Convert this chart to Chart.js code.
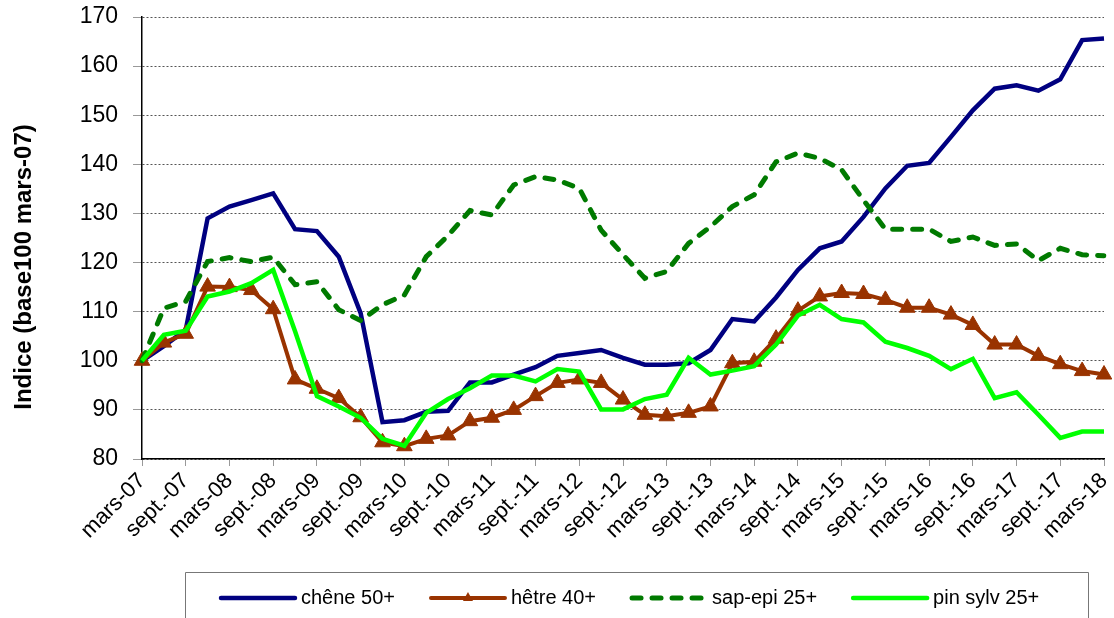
<!DOCTYPE html>
<html lang="fr">
<head>
<meta charset="UTF-8">
<title>Indice des prix du bois sur pied</title>
<script src="https://cdn.jsdelivr.net/npm/chart.js"></script>
<style>
  html, body { margin: 0; padding: 0; background: #fff; }
  #wrap { width: 1114px; height: 618px; position: relative; }
</style>
</head>
<body>
<div id="wrap"><canvas id="indexChart"></canvas></div>
<script>
// quarterly points, only every other one gets a label on the axis
const quarters = [
  'mars-07', 'juin-07', 'sept.-07', 'déc.-07',
  'mars-08', 'juin-08', 'sept.-08', 'déc.-08',
  'mars-09', 'juin-09', 'sept.-09', 'déc.-09',
  'mars-10', 'juin-10', 'sept.-10', 'déc.-10',
  'mars-11', 'juin-11', 'sept.-11', 'déc.-11',
  'mars-12', 'juin-12', 'sept.-12', 'déc.-12',
  'mars-13', 'juin-13', 'sept.-13', 'déc.-13',
  'mars-14', 'juin-14', 'sept.-14', 'déc.-14',
  'mars-15', 'juin-15', 'sept.-15', 'déc.-15',
  'mars-16', 'juin-16', 'sept.-16', 'déc.-16',
  'mars-17', 'juin-17', 'sept.-17', 'déc.-17',
  'mars-18'
];

const chene = [100, 103, 106.3, 129, 131.4, 132.7, 134.1, 126.8, 126.4, 121.2,
  109.7, 87.5, 87.9, 89.6, 89.8, 95.6, 95.6, 97.2, 98.7, 101.0,
  101.6, 102.2, 100.6, 99.2, 99.2, 99.5, 102.2, 108.5, 108.0, 112.9,
  118.5, 122.9, 124.3, 129.3, 135.1, 139.7, 140.3, 145.6, 151.0, 155.4,
  156.1, 155.0, 157.3, 165.3, 165.6];

const hetre = [100, 103.7, 105.5, 115.1, 115.0, 114.4, 110.5, 96.2, 94.3, 92.4,
  88.5, 83.4, 82.6, 84.1, 84.8, 87.7, 88.4, 90.0, 92.8, 95.5,
  96.2, 95.5, 92.1, 89.0, 88.7, 89.4, 90.7, 99.5, 99.8, 104.5,
  110.2, 113.1, 113.8, 113.6, 112.4, 110.8, 110.8, 109.4, 107.3, 103.3,
  103.3, 101.0, 99.3, 97.9, 97.2];

const sapEpi = [100, 110.7, 112.1, 120.2, 121.0, 120.2, 121.1, 115.5, 116.1, 110.4,
  108.2, 111.4, 113.4, 121.2, 125.5, 130.6, 129.7, 135.8, 137.5, 136.8,
  135.1, 126.6, 121.6, 116.8, 118.2, 123.9, 127.3, 131.4, 133.8, 140.5,
  142.3, 141.2, 138.9, 132.7, 126.8, 126.8, 126.8, 124.3, 125.2, 123.5,
  123.8, 120.4, 122.9, 121.6, 121.4];

const pinSylv = [100, 105.3, 106.1, 113.1, 114.1, 115.8, 118.5, 106, 92.8, 90.7,
  88.4, 84.1, 82.7, 89.4, 92.2, 94.4, 97.0, 97.0, 95.8, 98.3,
  97.8, 90.1, 90.1, 92.2, 93.1, 100.6, 97.2, 98.0, 98.9, 103.3,
  109.2, 111.4, 108.5, 107.8, 103.9, 102.6, 101.0, 98.3, 100.4, 92.4,
  93.6, 89.0, 84.3, 85.6, 85.6];

const yTitle = 'Indice (base100 mars-07)';

const FONT = '"Liberation Sans", Arial, sans-serif';
Chart.defaults.font.family = FONT;
Chart.defaults.color = '#000';

// y title (sits a bit lower than the axis middle) + boxed legend, drawn by hand
const extras = {
  id: 'extras',
  afterDraw(chart) {
    const ctx = chart.ctx;
    ctx.save();
    ctx.translate(24, 267);
    ctx.rotate(-Math.PI / 2);
    ctx.font = 'bold 24px ' + FONT;
    ctx.fillStyle = '#000';
    ctx.textAlign = 'center';
    ctx.textBaseline = 'middle';
    ctx.fillText(yTitle, 0, 0);
    ctx.restore();

    ctx.save();
    ctx.strokeStyle = '#777';
    ctx.lineWidth = 1;
    ctx.beginPath();
    ctx.moveTo(185.5, 640);
    ctx.lineTo(185.5, 572.5);
    ctx.lineTo(1088.5, 572.5);
    ctx.lineTo(1088.5, 640);
    ctx.stroke();

    ctx.font = '20px ' + FONT;
    ctx.textBaseline = 'middle';
    ctx.textAlign = 'left';
    let x = 221;
    const y = 598;
    chart.data.datasets.forEach(ds => {
      ctx.strokeStyle = ds.borderColor;
      ctx.lineWidth = ds.borderWidth;
      ctx.lineCap = 'round';
      ctx.setLineDash(ds.borderDash || []);
      ctx.beginPath();
      ctx.moveTo(x, y);
      ctx.lineTo(x + 74, y);
      ctx.stroke();
      ctx.setLineDash([]);
      if (ds.pointStyle === 'triangle') {
        ctx.fillStyle = ds.backgroundColor;
        ctx.beginPath();
        ctx.moveTo(x + 37, y - 6);
        ctx.lineTo(x + 42, y + 3);
        ctx.lineTo(x + 32, y + 3);
        ctx.closePath();
        ctx.fill();
      }
      ctx.fillStyle = '#000';
      ctx.fillText(ds.label, x + 80, y);
      x += 80 + ctx.measureText(ds.label).width + 36;
    });
    ctx.restore();
  }
};

new Chart(document.getElementById('indexChart'), {
  type: 'line',
  data: {
    labels: quarters,
    datasets: [
      {
        label: 'chêne 50+',
        data: chene,
        borderColor: '#000080',
        borderWidth: 4.5,
        pointRadius: 0,
        order: 4
      },
      {
        label: 'hêtre 40+',
        data: hetre,
        borderColor: '#993300',
        backgroundColor: '#993300',
        borderWidth: 4,
        pointStyle: 'triangle',
        pointRadius: 9,
        pointBorderColor: '#993300',
        pointBackgroundColor: '#993300',
        pointBorderWidth: 1,
        order: 3
      },
      {
        label: 'sap-epi 25+',
        data: sapEpi,
        borderColor: '#007a00',
        borderWidth: 5,
        borderDash: [9, 11],
        borderCapStyle: 'round',
        pointRadius: 0,
        order: 2
      },
      {
        label: 'pin sylv 25+',
        data: pinSylv,
        borderColor: '#00ff00',
        borderWidth: 4.5,
        pointRadius: 0,
        order: 1
      }
    ]
  },
  options: {
    responsive: true,
    maintainAspectRatio: false,
    animation: false,
    layout: { padding: { left: 0, right: 7, top: 17, bottom: 59 } },
    plugins: {
      legend: { display: false },
      tooltip: { enabled: false }
    },
    scales: {
      x: {
        ticks: {
          autoSkip: false,
          minRotation: 45,
          maxRotation: 45,
          padding: 2,
          font: { size: 22 },
          callback: (v, i) => (i % 2 ? '' : quarters[i])
        },
        grid: {
          drawOnChartArea: false,
          tickLength: 7,
          tickColor: c => (c.index % 2 ? 'rgba(0,0,0,0)' : '#999')
        },
        border: { color: '#000', width: 1.5 },
        afterFit(scale) {
          scale.height = 100;
          scale.paddingLeft = 0;
          scale.paddingRight = 0;
        }
      },
      y: {
        min: 80,
        max: 170,
        ticks: { stepSize: 10, padding: 15, font: { size: 23 } },
        grid: { color: '#555', tickColor: '#999', tickLength: 9, lineWidth: 1 },
        border: { color: '#000', width: 1.5, dash: [2, 2] },
        afterFit(scale) {
          scale.width = 142;
          scale.paddingTop = 0;
          scale.paddingBottom = 0;
        }
      }
    }
  },
  plugins: [extras]
});
</script>
</body>
</html>
